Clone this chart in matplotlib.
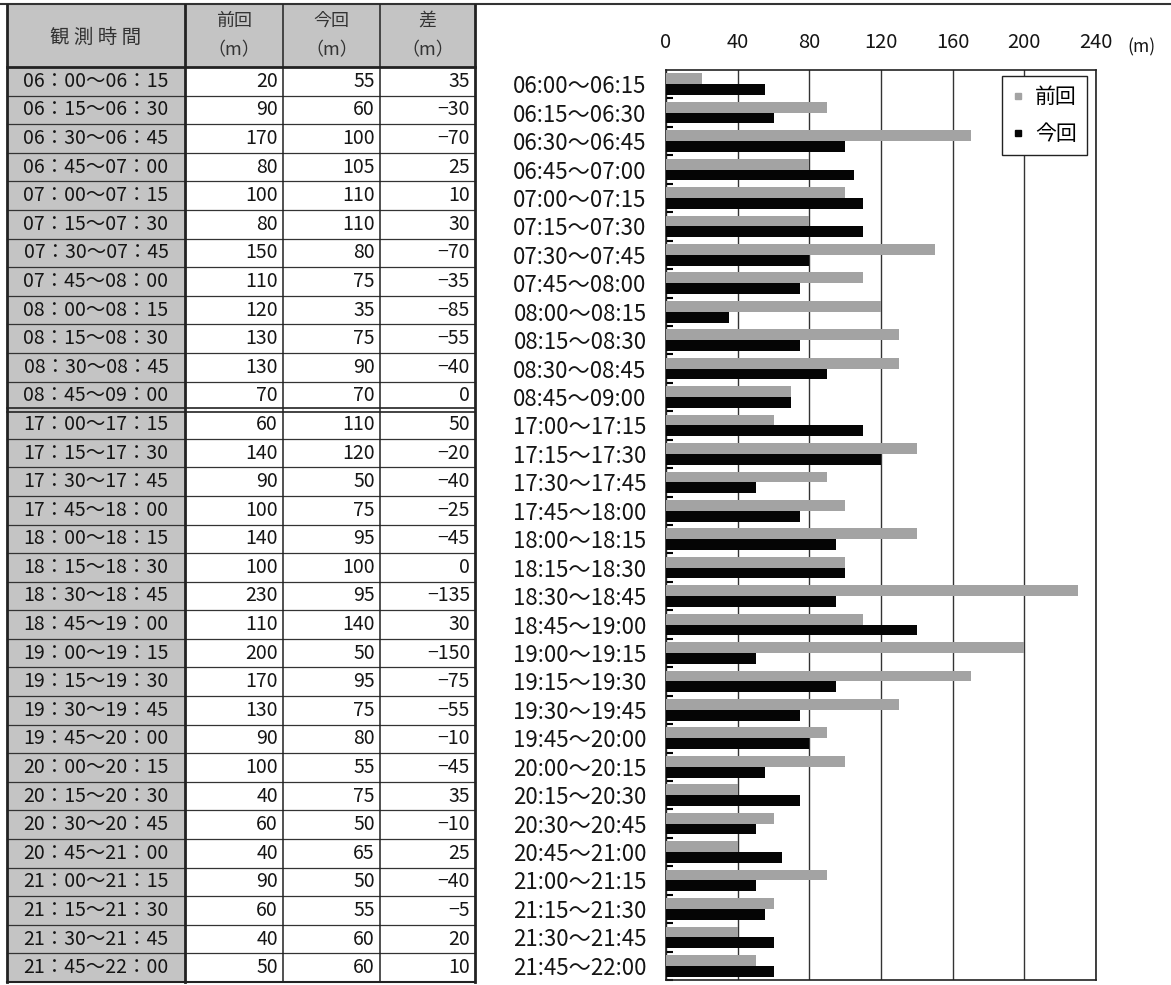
import numpy as np
import matplotlib
matplotlib.use("Agg")
import matplotlib.pyplot as plt
from matplotlib.patches import Rectangle
from matplotlib.lines import Line2D

plt.rcParams['font.family'] = ['Noto Sans CJK JP', 'DejaVu Sans']

# 観測時間帯
slots = ["06:00～06:15", "06:15～06:30", "06:30～06:45", "06:45～07:00",
         "07:00～07:15", "07:15～07:30", "07:30～07:45", "07:45～08:00",
         "08:00～08:15", "08:15～08:30", "08:30～08:45", "08:45～09:00",
         "17:00～17:15", "17:15～17:30", "17:30～17:45", "17:45～18:00",
         "18:00～18:15", "18:15～18:30", "18:30～18:45", "18:45～19:00",
         "19:00～19:15", "19:15～19:30", "19:30～19:45", "19:45～20:00",
         "20:00～20:15", "20:15～20:30", "20:30～20:45", "20:45～21:00",
         "21:00～21:15", "21:15～21:30", "21:30～21:45", "21:45～22:00"]
# 渋滞長 (m)
prev = [20, 90, 170, 80, 100, 80, 150, 110, 120, 130, 130, 70,
        60, 140, 90, 100, 140, 100, 230, 110, 200, 170, 130, 90,
        100, 40, 60, 40, 90, 60, 40, 50]
curr = [55, 60, 100, 105, 110, 110, 80, 75, 35, 75, 90, 70,
        110, 120, 50, 75, 95, 100, 95, 140, 50, 95, 75, 80,
        55, 75, 50, 65, 50, 55, 60, 60]
diff = [c - p for p, c in zip(prev, curr)]
headers = ["前回\n（m）", "今回\n（m）", "差\n（m）"]
xticks = [0, 40, 80, 120, 160, 200, 240]

W, H = 1171, 985
GRAY = "#c4c4c4"
TXT = "#151515"
fig = plt.figure(figsize=(W / 100, H / 100), dpi=100)

# ---- table (drawn in pixel coordinates) ----
tab = fig.add_axes([0, 0, 1, 1])
tab.set_xlim(0, W)
tab.set_ylim(H, 0)
tab.axis("off")

col_x = [7, 185, 283, 380, 475]
top, head_bot, bot = 5, 67, 982
n = len(slots)
rh = (bot - head_bot) / n

tab.add_patch(Rectangle((col_x[0], top), col_x[-1] - col_x[0], head_bot - top,
                        facecolor=GRAY, edgecolor="none"))
tab.add_patch(Rectangle((col_x[0], head_bot), col_x[1] - col_x[0], bot - head_bot,
                        facecolor=GRAY, edgecolor="none"))

# horizontal rules
for i in range(1, n):
    y = head_bot + i * rh
    if i == 12:
        tab.plot([col_x[0], col_x[-1]], [y - 2, y - 2], color="#222", lw=1.2)
        tab.plot([col_x[0], col_x[-1]], [y + 1.5, y + 1.5], color="#222", lw=1.2)
    else:
        tab.plot([col_x[0], col_x[-1]], [y, y], color="#333", lw=0.9)
tab.plot([col_x[0], col_x[-1]], [head_bot, head_bot], color="#222", lw=2)
tab.plot([0, W], [top - 1, top - 1], color="#333", lw=1.5)
tab.plot([col_x[0], col_x[-1]], [bot, bot], color="#222", lw=1.5)
# vertical rules
for j, x in enumerate(col_x):
    tab.plot([x, x], [top, bot], color="#222", lw=2 if j in (0, 1, 4) else 1.1)

tab.text((col_x[0] + col_x[1]) / 2, (top + head_bot) / 2 + 1, "観 測 時 間",
         ha="center", va="center", fontsize=14, color="#333")
for j, h in enumerate(headers):
    cx = (col_x[j + 1] + col_x[j + 2]) / 2
    l1, l2 = h.split("\n")
    tab.text(cx, 21, l1, ha="center", va="center", fontsize=13, color="#333")
    tab.text(cx, 50, l2, ha="center", va="center", fontsize=13, color="#333")

for i in range(n):
    cy = head_bot + (i + 0.5) * rh
    tab.text((col_x[0] + col_x[1]) / 2, cy, slots[i].replace(":", "："),
             ha="center", va="center", fontsize=14, color=TXT)
    for j, v in enumerate((prev[i], curr[i], diff[i])):
        s = str(v).replace("-", "−")
        tab.text(col_x[j + 2] - 5, cy, s, ha="right", va="center",
                 fontsize=14, color=TXT)

# ---- bar chart ----
ax = fig.add_axes([666 / W, 1 - 980 / H, 430 / W, 910 / H])
ax.set_zorder(2)
ax.set_facecolor("white")
y = np.arange(n)
ax.barh(y - 0.19, prev, height=0.38, color="#a3a3a3", zorder=3, label="前回")
ax.barh(y + 0.19, curr, height=0.38, color="#050505", zorder=3, label="今回")
ax.set_ylim(n - 0.5, -0.5)
ax.set_xlim(0, 240)
ax.set_xticks(xticks)
ax.xaxis.tick_top()
ax.tick_params(axis="x", length=0, pad=12, labelsize=14.5, colors=TXT)
ax.grid(axis="x", color="#333", lw=1, zorder=1)
ax.set_yticks(y)
ax.set_yticklabels(slots, fontsize=16, color=TXT)
ax.tick_params(axis="y", which="major", length=0, pad=14)
ax.set_yticks(y + 0.5, minor=True)
ax.tick_params(axis="y", which="minor", direction="in", length=5, width=1.5)
for sp in ax.spines.values():
    sp.set_color("#222")
    sp.set_linewidth(1.2)

fig.text(1141 / W, 1 - 47 / H, "(m)", ha="center", va="center",
         fontsize=12.5, color=TXT)

handles = [Line2D([], [], marker="s", ls="none", ms=5, color="#a3a3a3"),
           Line2D([], [], marker="s", ls="none", ms=5, color="#050505")]
leg = ax.legend(handles, ["前回", "今回"], loc="upper right",
                bbox_to_anchor=(1087 / W, 1 - 76 / H),
                bbox_transform=fig.transFigure, borderaxespad=0,
                fontsize=15, labelspacing=0.7, handlelength=0.6,
                handletextpad=0.5, borderpad=0.5, fancybox=False,
                framealpha=1, edgecolor="#222")
leg.get_frame().set_linewidth(1)

fig.savefig("out.png", dpi=100, facecolor="white")
